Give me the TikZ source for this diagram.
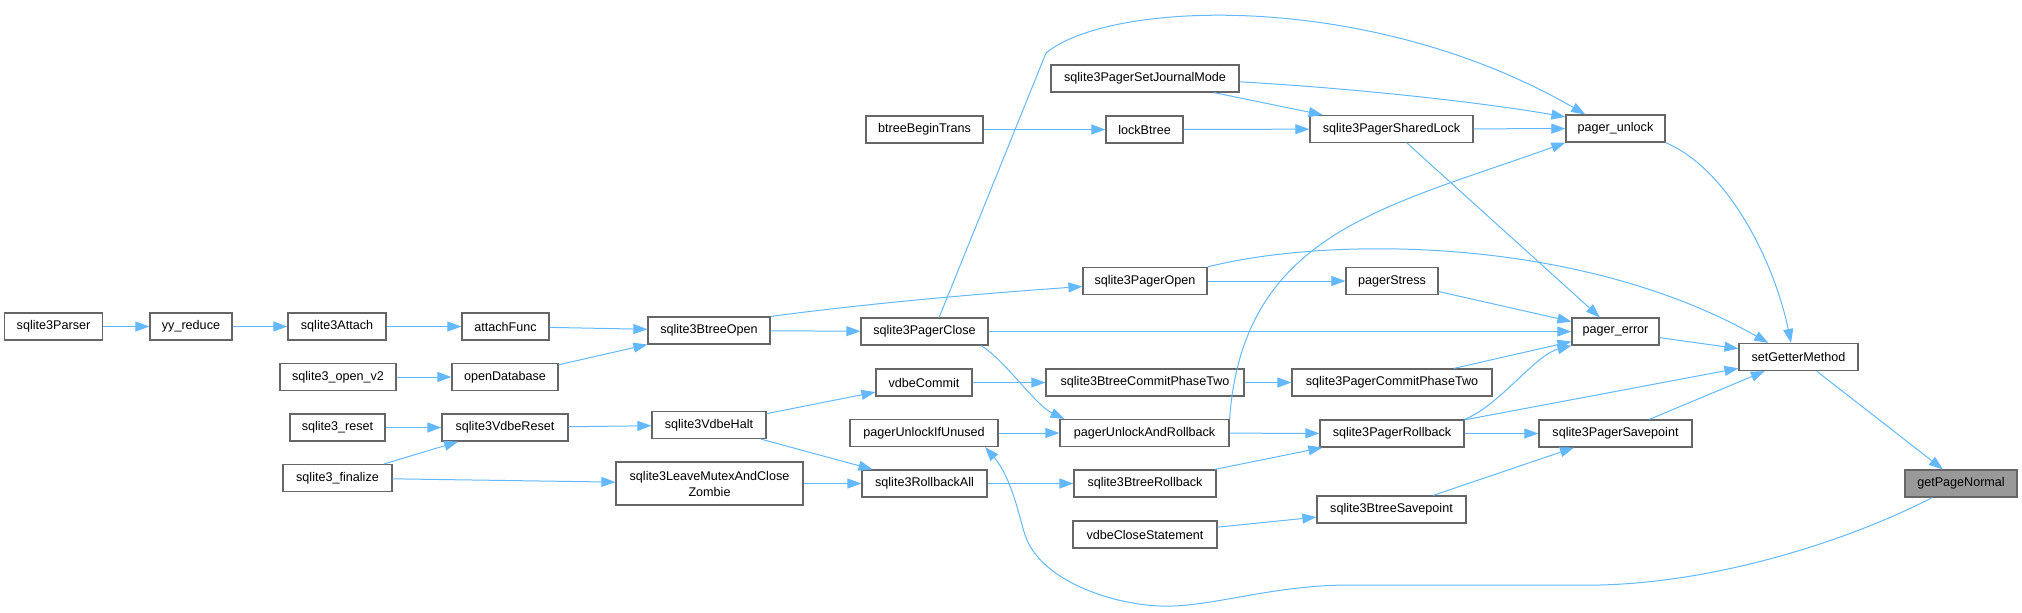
\documentclass[tikz,border=0pt]{standalone}
\usepackage{fontspec}
\setmainfont{Liberation Sans}
\usetikzlibrary{arrows.meta}

\definecolor{edgeblue}{HTML}{63B8FF}
\definecolor{boxgray}{HTML}{666666}
\definecolor{curfill}{HTML}{999999}

\begin{document}
\begin{tikzpicture}[x=0.5pt, y=-0.5pt,
    fn/.style={draw=boxgray, line width=0.6pt, fill=white, inner sep=0pt,
      minimum height=13.5pt, font=\fontsize{6.3}{8}\selectfont},
    cur/.style={fn, fill=curfill},
    call/.style={draw=edgeblue, line width=0.5pt, -{Triangle[length=7pt,width=5pt]}}]
    \useasboundingbox (0,0) rectangle (2022,612);

    \node[fn, minimum width=49pt] (parser) at (53.5,326.5) {sqlite3Parser};
    \node[fn, minimum width=41pt] (yyreduce) at (191,326.5) {yy\_reduce};
    \node[fn, minimum width=49pt] (attach) at (337,326.5) {sqlite3Attach};
    \node[fn, minimum width=43.5pt] (attachfunc) at (505.5,326.5) {attachFunc};
    \node[fn, minimum width=58pt] (openv2) at (338,377) {sqlite3\_open\_v2};
    \node[fn, minimum width=53pt] (opendb) at (505,377) {openDatabase};
    \node[fn, minimum width=47.5pt] (reset) at (337.5,427.5) {sqlite3\_reset};
    \node[fn, minimum width=54.5pt] (finalize) at (337.5,478) {sqlite3\_finalize};
    \node[fn, minimum width=63pt] (vdbereset) at (505,427.5) {sqlite3VdbeReset};
    \node[fn, minimum width=61pt] (btreeopen) at (709,330.5) {sqlite3BtreeOpen};
    \node[fn, minimum width=57pt] (vdbehalt) at (709,425) {sqlite3VdbeHalt};
    \node[fn, minimum width=93.5pt, minimum height=21.5pt, align=center] (leavemutex) at (709.5,483.5) {sqlite3LeaveMutexAndClose\\Zombie};
    \node[fn, minimum width=58.5pt] (btreebegin) at (924.5,129.5) {btreeBeginTrans};
    \node[fn, minimum width=63.5pt] (pagerclose) at (924.5,331.5) {sqlite3PagerClose};
    \node[fn, minimum width=48pt] (vdbecommit) at (924,382.5) {vdbeCommit};
    \node[fn, minimum width=74pt] (unlockifunused) at (924,433) {pagerUnlockIfUnused};
    \node[fn, minimum width=62.5pt] (rollbackall) at (924.5,483.5) {sqlite3RollbackAll};
    \node[fn, minimum width=94pt] (journalmode) at (1145,78.5) {sqlite3PagerSetJournalMode};
    \node[fn, minimum width=38.5pt] (lockbtree) at (1144.5,129.5) {lockBtree};
    \node[fn, minimum width=62pt] (pageropen) at (1145,281) {sqlite3PagerOpen};
    \node[fn, minimum width=99pt] (btreecommit) at (1145,382.5) {sqlite3BtreeCommitPhaseTwo};
    \node[fn, minimum width=84.5pt] (unlockandrollback) at (1144.5,433) {pagerUnlockAndRollback};
    \node[fn, minimum width=71pt] (btreerollback) at (1145,483.5) {sqlite3BtreeRollback};
    \node[fn, minimum width=72pt] (closestatement) at (1145,534.5) {vdbeCloseStatement};
    \node[fn, minimum width=81.5pt] (sharedlock) at (1391.5,129) {sqlite3PagerSharedLock};
    \node[fn, minimum width=46pt] (pagerstress) at (1392,281) {pagerStress};
    \node[fn, minimum width=100pt] (pagercommit) at (1392,382.5) {sqlite3PagerCommitPhaseTwo};
    \node[fn, minimum width=72pt] (pagerrollback) at (1392,433.5) {sqlite3PagerRollback};
    \node[fn, minimum width=74.5pt] (btreesavepoint) at (1391.5,509.5) {sqlite3BtreeSavepoint};
    \node[fn, minimum width=49.5pt] (pagerunlock) at (1615.5,128.5) {pager\_unlock};
    \node[fn, minimum width=43.5pt] (pagererror) at (1615.5,331.5) {pager\_error};
    \node[fn, minimum width=76.5pt] (pagersavepoint) at (1615.5,433.5) {sqlite3PagerSavepoint};
    \node[fn, minimum width=59.5pt] (setgetter) at (1798.5,357) {setGetterMethod};
    \node[cur, minimum width=56pt] (getpagenormal) at (1961,483.5) {getPageNormal};

    \draw[call] (parser) -- (yyreduce);
    \draw[call] (yyreduce) -- (attach);
    \draw[call] (attach) -- (attachfunc);
    \draw[call] (attachfunc) -- (btreeopen);
    \draw[call] (openv2) -- (opendb);
    \draw[call] (opendb) -- (btreeopen);
    \draw[call] (reset) -- (vdbereset);
    \draw[call] (finalize) -- (vdbereset);
    \draw[call] (finalize) -- (leavemutex);
    \draw[call] (vdbereset) -- (vdbehalt);
    \draw[call] (btreeopen.north east) .. controls (880,302) and (990,293) .. (pageropen.185);
    \draw[call] (btreeopen) -- (pagerclose);
    \draw[call] (vdbehalt) -- (vdbecommit);
    \draw[call] (vdbehalt) -- (rollbackall);
    \draw[call] (leavemutex) -- (rollbackall);
    \draw[call] (btreebegin) -- (lockbtree);
    \draw[call] (lockbtree) -- (sharedlock);
    \draw[call] (journalmode) -- (sharedlock);
    \draw[call] (journalmode.-2) .. controls (1350,88) and (1480,102) .. (pagerunlock.167);
    \draw[call] (sharedlock) -- (pagerunlock);
    \draw[call] (sharedlock) -- (pagererror);
    \draw[call] (pagerclose.44) -- (1046,53) .. controls (1110,0) and (1370,-10) .. (pagerunlock.155);
    \draw[call] (pagerclose) -- (pagererror);
    \draw[call] (pagerclose.-14) .. controls (1005,360) and (1035,405) .. (unlockandrollback.170);
    \draw[call] (pageropen) -- (pagerstress);
    \draw[call] (pageropen.north east) .. controls (1330,236) and (1580,236) .. (setgetter.155);
    \draw[call] (pagerstress) -- (pagererror);
    \draw[call] (vdbecommit) -- (btreecommit);
    \draw[call] (btreecommit) -- (pagercommit);
    \draw[call] (pagercommit) -- (pagererror);
    \draw[call] (unlockifunused) -- (unlockandrollback);
    \draw[call] (unlockandrollback.north east) .. controls (1243,232) and (1387,207) .. (pagerunlock.south west);
    \draw[call] (unlockandrollback) -- (pagerrollback);
    \draw[call] (rollbackall) -- (btreerollback);
    \draw[call] (btreerollback) -- (pagerrollback);
    \draw[call] (closestatement) -- (btreesavepoint);
    \draw[call] (pagerrollback.north east) .. controls (1500,405) and (1535,355) .. (pagererror.south west);
    \draw[call] (pagerrollback) -- (setgetter);
    \draw[call] (pagerrollback) -- (pagersavepoint);
    \draw[call] (btreesavepoint) -- (pagersavepoint);
    \draw[call] (pagersavepoint) -- (setgetter);
    \draw[call] (pagerunlock.south east) .. controls (1730,170) and (1775,265) .. (setgetter.118);
    \draw[call] (pagererror) -- (setgetter);
    \draw[call] (setgetter) -- (getpagenormal);
    \draw[call] (getpagenormal.206) .. controls (1850,540) and (1720,582) .. (1600,585) -- (1350,585)
      .. controls (1270,585) and (1210,608) .. (1160,606)
      .. controls (1110,604) and (1040,580) .. (1025,535)
      .. controls (1020,520) and (1012,478) .. (unlockifunused.-13);
  \end{tikzpicture}
\end{document}
